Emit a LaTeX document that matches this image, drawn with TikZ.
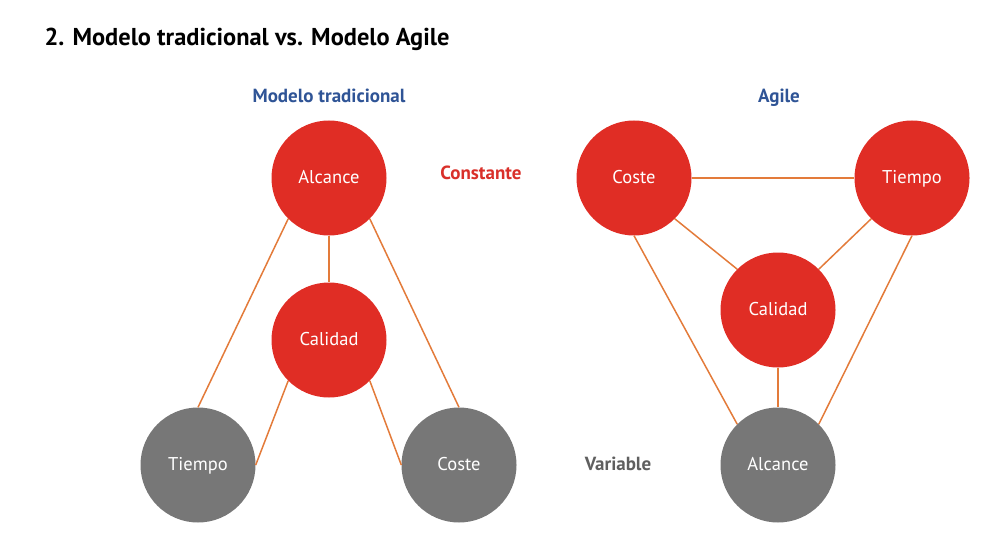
\documentclass[tikz,border=0pt]{standalone}
\usepackage{fontspec}
\setmainfont{PT Sans}
\usetikzlibrary{positioning}
\definecolor{circred}{HTML}{E02D25}
\definecolor{circgray}{HTML}{777777}
\definecolor{linkorange}{HTML}{E37B3A}
\definecolor{headblue}{HTML}{2F5496}
\definecolor{labred}{HTML}{D9302A}
\definecolor{labgray}{HTML}{5F5F5F}
\tikzstyle{fixed} = [circle, minimum size=115pt, inner sep=0pt, fill=circred, text=white, text height=1.15em, text depth=0pt, font=\fontsize{18.5}{20}\selectfont]
\tikzstyle{loose} = [fixed, fill=circgray]
\tikzstyle{link} = [draw=linkorange, line width=1.5pt]
\tikzstyle{head} = [font=\bfseries\fontsize{19}{21}\selectfont, text=headblue, text height=1.15em, text depth=0pt]

\begin{document}
\begin{tikzpicture}[x=1pt, y=-1pt]
		\useasboundingbox (0,0) rectangle (1001,556);
		\node[anchor=base west, font=\bfseries\fontsize{24.4}{27}\selectfont] (title) at (41,46) {2. Modelo tradicional vs. Modelo Agile};
		% traditional model
		\node(trad) [head] at (329,97) {Modelo tradicional};
		\node(t0) [fixed] at (329,178) {Alcance};
		\node(t1) [fixed] at (329,340) {Calidad};
		\node(t2) [loose] at (198,465) {Tiempo};
		\node(t3) [loose] at (459,465) {Coste};
		\draw [link] (t0.south) -- (t1.north);
		\draw [link] (t0.south west) -- (t2.north);
		\draw [link] (t0.south east) -- (t3.north);
		\draw [link] (t1.south west) -- (t2.east);
		\draw [link] (t1.south east) -- (t3.west);
		% agile model
		\node(agile) [head] at (779,97) {Agile};
		\node(a0) [fixed] at (634,178) {Coste};
		\node(a1) [fixed] at (912,178) {Tiempo};
		\node(a2) [fixed] at (778,310) {Calidad};
		\node(a3) [loose] at (778,465) {Alcance};
		\draw [link] (a0.east) -- (a1.west);
		\draw [link] (a0.south east) -- (a2.north west);
		\draw [link] (a1.south west) -- (a2.north east);
		\draw [link] (a2.south) -- (a3.north);
		\draw [link] (a0.south) -- (a3.north west);
		\draw [link] (a1.south) -- (a3.north east);
		% row labels
		\node(fix) [head, text=labred] at (481,174) {Constante};
		\node(var) [head, text=labgray] at (618,465) {Variable};
	\end{tikzpicture}
\end{document}
